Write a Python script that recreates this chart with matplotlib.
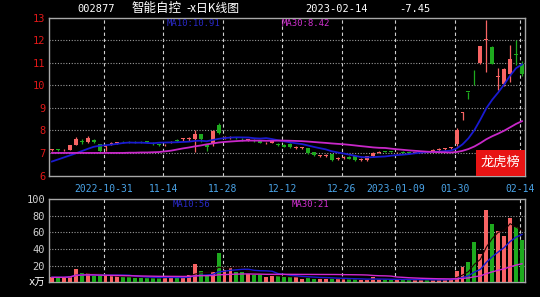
import numpy as np
import pandas as pd
import matplotlib
matplotlib.use("Agg")
import matplotlib.pyplot as plt

# ---------------- data ----------------
opens = [7.13, 7.15, 7.12, 7.14, 7.37, 7.53, 7.48, 7.56, 7.38, 7.27,
         7.40, 7.44, 7.52, 7.53, 7.53, 7.52, 7.52, 7.45, 7.38, 7.33,
         7.45, 7.58, 7.60, 7.60, 7.60, 7.82, 7.33, 7.42, 8.22, 7.68,
         7.68, 7.70, 7.63, 7.56, 7.58, 7.52, 7.42, 7.45, 7.40, 7.35,
         7.38, 7.22, 7.22, 7.20, 7.02, 6.86, 6.88, 6.95, 6.74, 6.78,
         6.83, 6.85, 6.70, 6.70, 6.86, 7.00, 7.08, 7.08, 7.02, 7.05,
         7.03, 7.00, 7.03, 7.08, 7.08, 7.13, 7.16, 7.20, 7.38, 8.75,
         9.70, 10.67, 10.98, 12.00, 11.69, 10.35, 10.06, 10.50, 11.40, 10.95]
highs = [7.18, 7.17, 7.16, 7.36, 7.72, 7.62, 7.75, 7.62, 7.40, 7.31,
         7.47, 7.50, 7.53, 7.54, 7.54, 7.53, 7.53, 7.47, 7.40, 7.40,
         7.52, 7.60, 7.66, 7.70, 8.00, 7.86, 7.38, 8.00, 8.32, 7.75,
         7.74, 7.72, 7.66, 7.63, 7.62, 7.55, 7.50, 7.56, 7.42, 7.38,
         7.42, 7.30, 7.28, 7.22, 7.05, 6.92, 6.95, 6.97, 6.80, 6.85,
         6.85, 6.87, 6.76, 6.88, 7.02, 7.08, 7.10, 7.10, 7.06, 7.07,
         7.05, 7.06, 7.08, 7.09, 7.16, 7.20, 7.23, 7.28, 8.12, 8.82,
         9.70, 10.67, 11.73, 12.90, 11.75, 10.76, 10.78, 11.76, 12.00, 11.08]
lows = [7.10, 7.10, 7.10, 7.12, 7.33, 7.38, 7.42, 7.45, 7.02, 7.10,
        7.36, 7.40, 7.45, 7.46, 7.46, 7.45, 7.45, 7.36, 7.30, 7.30,
        7.42, 7.50, 7.55, 7.55, 7.03, 7.50, 7.10, 7.30, 7.82, 7.62,
        7.62, 7.62, 7.55, 7.52, 7.50, 7.42, 7.38, 7.42, 7.30, 7.25,
        7.22, 7.16, 7.16, 6.95, 6.86, 6.82, 6.84, 6.66, 6.68, 6.72,
        6.72, 6.66, 6.64, 6.66, 6.84, 6.98, 7.02, 7.02, 6.98, 6.98,
        6.97, 6.98, 7.00, 7.02, 7.06, 7.10, 7.14, 7.18, 7.30, 8.45,
        9.40, 10.02, 10.95, 10.58, 10.92, 9.80, 9.95, 10.15, 10.90, 10.40]
closes = [7.16, 7.13, 7.14, 7.33, 7.60, 7.48, 7.67, 7.50, 7.10, 7.30,
          7.45, 7.47, 7.52, 7.52, 7.52, 7.51, 7.50, 7.40, 7.35, 7.37,
          7.50, 7.55, 7.64, 7.65, 7.86, 7.60, 7.25, 7.95, 7.87, 7.72,
          7.72, 7.66, 7.60, 7.60, 7.54, 7.45, 7.46, 7.52, 7.33, 7.28,
          7.26, 7.25, 7.25, 6.98, 6.90, 6.89, 6.92, 6.70, 6.78, 6.82,
          6.75, 6.69, 6.74, 6.85, 7.00, 7.06, 7.05, 7.04, 7.04, 7.01,
          7.00, 7.04, 7.06, 7.05, 7.14, 7.18, 7.21, 7.26, 8.02, 8.82,
          9.70, 10.67, 11.73, 12.05, 10.95, 10.40, 10.73, 11.17, 11.33, 10.49]
volumes = [6, 6, 6, 7.6, 16, 10.8, 10.8, 7.6, 7, 7,
           7, 7, 6, 6, 5.2, 5.2, 5.2, 5.2, 4.8, 7.6,
           6, 6, 6, 8.8, 22, 13.7, 7.6, 12, 35.7, 14.9,
           16.9, 12, 12, 10, 8.8, 8.8, 6, 7.6, 7.6, 6,
           6, 6, 4.4, 6, 4.4, 4.4, 4.4, 4.8, 3.6, 3.6,
           3.6, 3.6, 2.8, 2.8, 6, 3.6, 3.6, 2.8, 2.8, 3.6,
           2.8, 2.8, 2.8, 2.8, 2.8, 3.6, 3.6, 4.4, 13.7, 18,
           24, 48, 33.7, 87, 70, 62, 56, 77, 66, 51]
# MA values at the start of the window (their windows begin before the visible data)
ma10_head = [6.62, 6.71, 6.80, 6.89, 6.98, 7.08, 7.18, 7.27, 7.32]
ma30_head = [7.00, 7.00, 7.00, 7.00, 7.00, 7.00, 7.00, 7.00, 7.00, 7.00,
             7.00, 7.00, 7.00, 7.01, 7.01, 7.02, 7.02, 7.03, 7.04, 7.07,
             7.10, 7.15, 7.20, 7.24, 7.29, 7.33, 7.38, 7.42, 7.46]

tick_index = [9, 19, 29, 39, 49, 58, 68, 79]
tick_labels = ["2022-10-31", "11-14", "11-28", "12-12", "12-26",
               "2023-01-09", "01-30", "02-14"]
price_ticks = [6, 7, 8, 9, 10, 11, 12, 13]
vol_ticks = [0, 20, 40, 60, 80, 100]
vol_tick_labels = ["x万", "20", "40", "60", "80", "100"]

title_code = "002877"
title_name = "智能自控"
title_kind = "-x日K线图"
title_date = "2023-02-14"
title_chg = "-7.45"
ma_price_labels = ["MA10:10.91", "MA30:8.42"]
ma_vol_labels = ["MA10:56", "MA30:21"]
badge_text = "龙虎榜"

# ---------------- derived ----------------
o = np.array(opens); h = np.array(highs); l = np.array(lows); c = np.array(closes)
v = np.array(volumes)
n = len(c)
idx = np.arange(n)
cs = pd.Series(c)
ma10 = cs.rolling(10).mean().to_numpy()
ma10[:len(ma10_head)] = ma10_head
ma30 = cs.rolling(30).mean().to_numpy()
ma30[:len(ma30_head)] = ma30_head
vs = pd.Series(v)
vma5 = vs.rolling(5, min_periods=1).mean().to_numpy()
vma10 = vs.rolling(10, min_periods=1).mean().to_numpy()
vma30 = vs.rolling(30, min_periods=1).mean().to_numpy()

RED = "#f86464"
GREEN = "#1eaa1e"
up = c > o
colors = np.where(up, RED, GREEN)

MONO = ["DejaVu Sans Mono", "Noto Sans CJK SC"]
CJK = ["Noto Sans CJK SC", "DejaVu Sans"]

fig = plt.figure(figsize=(5.4, 2.97), dpi=100, facecolor="black")
W, H = 540.0, 297.0
def rect(x0, y0, x1, y1):
    return [x0 / W, 1 - y1 / H, (x1 - x0) / W, (y1 - y0) / H]

PX0, PX1 = 49.3, 524.5
axp = fig.add_axes(rect(PX0, 17.5, PX1, 175.5))
axv = fig.add_axes(rect(PX0, 199.0, PX1, 282.3))

def fx(xpix):
    return (xpix - PX0) / (PX1 - PX0)

xlo, xhi = -0.45, 79.42
for ax in (axp, axv):
    ax.set_facecolor("black")
    ax.set_xlim(xlo, xhi)
    for s in ax.spines.values():
        s.set_color("#a8a8a8")
        s.set_linewidth(1.0)
    ax.set_xticks([])
    for t in tick_index:
        ax.axvline(t - 0.3, color="#d0d0d0", lw=0.8, ls=(0, (3, 2.5)), zorder=1)

# ---- price panel ----
axp.set_ylim(6, 13)
for y in price_ticks[1:-1]:
    axp.axhline(y, color="#9a9a9a", lw=0.8, ls=(0, (1, 1.5)), zorder=1)
axp.set_yticks(price_ticks)
axp.set_yticklabels([str(t) for t in price_ticks], family=MONO, fontsize=7.5)
axp.tick_params(axis="y", colors="#e01818", length=0, pad=3)

bw = 0.66
axp.vlines(idx, l, h, colors=colors, lw=0.9, zorder=3)
body_lo = np.minimum(o, c)
body_h = np.maximum(np.abs(c - o), 0.025)
axp.bar(idx, body_h, bottom=body_lo, width=bw, color=colors, zorder=4, linewidth=0)
axp.plot(idx, ma10, color="#1a1ad0", lw=1.3, zorder=5)
axp.plot(idx, ma30, color="#c828c8", lw=1.3, zorder=5)

axp.text(fx(167), 0.965, ma_price_labels[0],
         transform=axp.transAxes, color="#2a2ac8", fontsize=6.5, family=MONO,
         ha="left", va="center")
axp.text(fx(282), 0.965, ma_price_labels[1],
         transform=axp.transAxes, color="#d030d0", fontsize=6.5, family=MONO,
         ha="left", va="center")

# badge
bx0 = fx(476)
axp.add_patch(plt.Rectangle((bx0, 0.0), 1 - bx0, (175.5 - 150) / (175.5 - 17.5),
                            transform=axp.transAxes, color="#e81414", zorder=6, lw=0))
axp.text((bx0 + 1) / 2, (175.5 - 162.5) / (175.5 - 17.5), badge_text,
         transform=axp.transAxes, color="white", fontsize=9.5, family=CJK,
         ha="center", va="center", zorder=7)

# date labels
for t, lab in zip(tick_index, tick_labels):
    axp.annotate(lab, xy=(t - 0.3, 0), xycoords=("data", "axes fraction"),
                 xytext=(0, -9.5), textcoords="offset points", ha="center", va="center",
                 color="#4aa4e8", fontsize=7, family=MONO, annotation_clip=False)

# ---- volume panel ----
axv.set_ylim(0, 100)
for y in vol_ticks[1:-1]:
    axv.axhline(y, color="#9a9a9a", lw=0.8, ls=(0, (1, 1.5)), zorder=1)
axv.bar(idx, v, width=bw, color=colors, zorder=3, linewidth=0)
axv.plot(idx, vma5, color="#200000", lw=0.8, zorder=4)
axv.plot(idx, vma10, color="#1a1ad0", lw=1.0, zorder=4)
axv.plot(idx, vma30, color="#d028d0", lw=1.0, zorder=4)
axv.set_yticks(vol_ticks)
axv.set_yticklabels(vol_tick_labels, family=MONO, fontsize=7.5)
axv.tick_params(axis="y", colors="#d0d0d0", length=0, pad=3)
axv.get_yticklabels()[0].set_color("white")
axv.text(fx(173), 0.93, ma_vol_labels[0],
         transform=axv.transAxes, color="#2a2ac8", fontsize=6.5, family=MONO,
         ha="left", va="center")
axv.text(fx(292), 0.93, ma_vol_labels[1],
         transform=axv.transAxes, color="#d030d0", fontsize=6.5, family=MONO,
         ha="left", va="center")

# ---- title ----
ty = 1 - 8.5 / H
fig.text(77 / W, ty, title_code, color="white", fontsize=7.5, family=MONO, va="center")
fig.text(131 / W, ty, title_name, color="white", fontsize=9, family=CJK, va="center")
fig.text(186 / W, ty, title_kind, color="white", fontsize=8.5, family=CJK, va="center")
fig.text(305 / W, ty, title_date, color="white", fontsize=7.5, family=MONO, va="center")
fig.text(399 / W, ty, title_chg, color="white", fontsize=7.5, family=MONO, va="center")

fig.savefig("out.png", dpi=100, facecolor="black")
